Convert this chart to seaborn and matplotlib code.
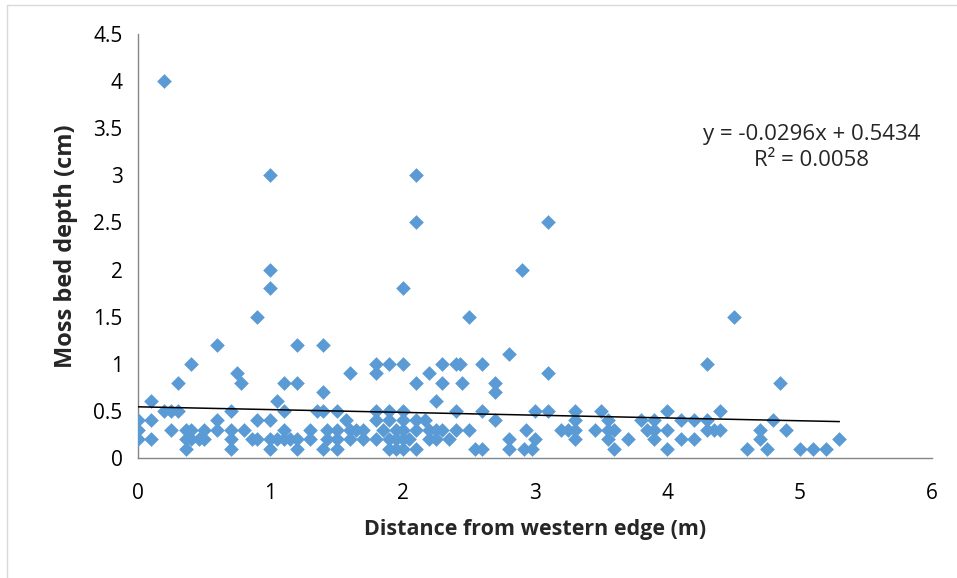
import numpy as np
import pandas as pd
import seaborn as sns
import matplotlib.pyplot as plt
import matplotlib.ticker as mticker
from matplotlib.lines import Line2D

# distance from western edge (m) and moss bed depth (cm)
distance = [
	0.2,
	1.0, 2.1,
	2.1, 3.1,
	1.0, 2.9,
	1.0, 2.0,
	0.9, 2.5, 4.5,
	0.6, 1.2, 1.4,
	2.8,
	0.4, 1.8, 1.9, 2.0, 2.3, 2.4, 2.43, 2.6, 4.3,
	0.75, 1.6, 1.8, 2.2, 3.1,
	0.3, 0.78, 1.1, 1.2, 2.1, 2.3, 2.45, 2.7, 4.85,
	1.4, 2.7,
	0.1, 1.05, 2.25,
	0.2, 0.25, 0.3, 0.7, 1.1, 1.35, 1.4, 1.5, 1.8, 1.9, 2.0, 2.4, 2.6, 3.0, 3.1, 3.3, 3.5, 4.0, 4.4,
	0.0, 0.1, 0.6, 0.9, 1.0, 1.57, 1.8, 1.9, 2.0, 2.1, 2.17, 2.7, 3.3, 3.55, 3.8, 3.9, 4.1, 4.2, 4.3, 4.8,
	0.0, 0.25, 0.36, 0.4, 0.5, 0.6, 0.7, 0.8, 1.1, 1.3, 1.43, 1.5, 1.6, 1.65, 1.7, 1.85, 1.95, 2.0, 2.1,
	2.2, 2.25, 2.3, 2.4, 2.5, 2.93, 3.2, 3.25, 3.3, 3.45, 3.55, 3.6, 3.85, 3.9, 4.0, 4.3, 4.35, 4.4, 4.7, 4.9,
	0.0, 0.1, 0.36, 0.4, 0.46, 0.5, 0.7, 0.86, 0.9, 1.0, 1.05, 1.1, 1.15, 1.2, 1.3, 1.43, 1.5, 1.6, 1.7,
	1.8, 1.9, 1.95, 2.0, 2.05, 2.2, 2.25, 2.35, 2.8, 3.0, 3.3, 3.55, 3.7, 3.9, 4.1, 4.2, 4.7, 5.3,
	0.36, 0.7, 1.0, 1.2, 1.4, 1.5, 1.9, 1.95, 2.0, 2.1, 2.55, 2.6, 2.8, 2.92, 2.98, 3.6, 4.0, 4.6, 4.75,
	5.0, 5.1, 5.2,
]
depth = (
	[4.0]
	+ [3.0] * 2
	+ [2.5] * 2
	+ [2.0] * 2
	+ [1.8] * 2
	+ [1.5] * 3
	+ [1.2] * 3
	+ [1.1]
	+ [1.0] * 9
	+ [0.9] * 5
	+ [0.8] * 9
	+ [0.7] * 2
	+ [0.6] * 3
	+ [0.5] * 19
	+ [0.4] * 20
	+ [0.3] * 39
	+ [0.2] * 37
	+ [0.1] * 22
)

# trendline as printed on the chart
slope = -0.0296
intercept = 0.5434
r_squared = 0.0058

df = pd.DataFrame({"distance": distance, "depth": depth})

sns.set_style("white")
plt.rcParams['font.family'] = ['Open Sans', 'DejaVu Sans']

fig = plt.figure(figsize=(9.57, 5.78), dpi=100)
ax = fig.add_axes([0.1442, 0.2076, 0.8297, 0.7336])

sns.scatterplot(data=df, x="distance", y="depth", marker="D", s=56,
	color="#5B9BD5", linewidth=0, ax=ax, zorder=3)

line_x = np.array([min(distance), max(distance)])
line_df = pd.DataFrame({"x": line_x, "y": slope * line_x + intercept})
sns.lineplot(data=line_df, x="x", y="y", color="black", linewidth=1.1, ax=ax, zorder=4)

ax.set_xlim(0, 6)
ax.set_ylim(0, 4.5)
ax.xaxis.set_major_locator(mticker.MultipleLocator(1))
ax.yaxis.set_major_locator(mticker.MultipleLocator(0.5))
fmt = mticker.FuncFormatter(lambda v, _: f"{v:g}")
ax.xaxis.set_major_formatter(fmt)
ax.yaxis.set_major_formatter(fmt)

for s in ["top", "right"]:
	ax.spines[s].set_visible(False)
for s in ["left", "bottom"]:
	ax.spines[s].set_color("#868686")
	ax.spines[s].set_linewidth(1.0)
ax.tick_params(axis="both", direction="out", length=5, width=1, color="#868686",
	labelsize=15, labelcolor="black", pad=6)
ax.tick_params(axis="x", pad=13)

ax.set_xlabel("Distance from western edge (m)", fontsize=15.5, fontweight="bold", labelpad=11)
ax.set_ylabel("Moss bed depth (cm)", fontsize=17, fontweight="bold", labelpad=11)

ax.text(5.087, 3.296, f"y = {slope}x + {intercept}\nR² = {r_squared}", fontsize=16,
	ha="center", va="center", linespacing=1.3)

# outer chart border (only the left and top edges are in frame)
fig.add_artist(Line2D([7 / 957, 7 / 957], [0, 1 - 5 / 578], transform=fig.transFigure,
	color="#d9d9d9", linewidth=1))
fig.add_artist(Line2D([7 / 957, 1], [1 - 5 / 578, 1 - 5 / 578], transform=fig.transFigure,
	color="#d9d9d9", linewidth=1))

plt.savefig("out.png", dpi=100)
